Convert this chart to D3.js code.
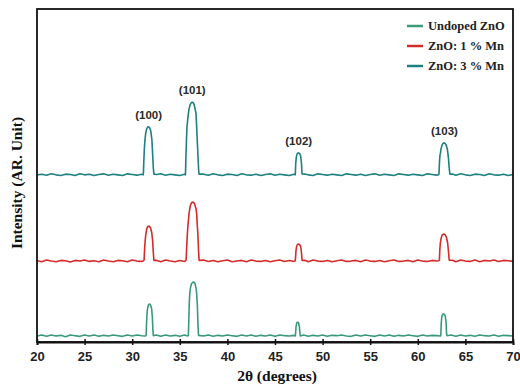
<!DOCTYPE html>
<html>
<head>
<meta charset="utf-8">
<script src="https://cdn.jsdelivr.net/npm/d3@7"></script>
<style>
  body { margin: 0; background: #fff; }
  svg { display: block; }
</style>
</head>
<body>
<svg></svg>
<script>
var WIDTH = 520;
var HEIGHT = 388;

var seriesNames = ['Undoped ZnO', 'ZnO: 1 % Mn', 'ZnO: 3 % Mn'];
var seriesColors = ['#3a9a78', '#d42b2b', '#1e8081'];
// vertical stacking offsets (a.u.)
var offsets = [1.8, 24.3, 50.2];
var xTicks = [20, 25, 30, 35, 40, 45, 50, 55, 60, 65, 70];

// peak labels: [text, 2theta, top of the 3 % Mn peak]
var peakLabels = [['(100)', 31.73, 64.6], ['(101)', 36.31, 72.0], ['(102)', 47.49, 56.8], ['(103)', 62.8, 59.8]];

// [2theta, intensity] relative to each trace's baseline
var undoped = [[20,0],[20.5,0.3],[21,-0.1],[21.5,0.3],[22,0],[22.5,0.2],[23,-0.2],[23.5,0.3],[24,0.1],[24.5,-0.1],[25,0.3],[25.5,0],[26,0.3],[26.5,-0.1],[27,0.2],[27.5,0],[28,0.3],[28.5,0.1],[29,-0.1],[29.5,0.3],[30,0],[30.5,0.3],[31,0.1],[31.42,0],
  [31.47,0.3],[31.5,3.5],[31.55,6.5],[31.62,8.4],[31.72,9.4],[31.84,9.6],[31.95,9.2],[32.05,8.0],[32.12,5.5],[32.18,1.5],[32.22,0.1],
  [32.5,0.3],[33,-0.1],[33.5,0.3],[34,0],[34.5,0.2],[35,-0.1],[35.5,0.3],[35.85,0],
  [35.9,0.3],[35.94,4],[35.99,9.5],[36.04,12.5],[36.12,14.5],[36.22,15.6],[36.35,16.1],[36.48,16.2],[36.62,15.6],[36.74,13.8],[36.84,9.5],[36.91,3.5],[36.97,0.2],
  [37.5,0],[38,0.3],[38.5,-0.1],[39,0.2],[39.5,0],[40,0.3],[40.5,0.1],[41,-0.1],[41.5,0.3],[42,0],[42.5,0.3],[43,-0.1],[43.5,0.2],[44,0],[44.5,0.3],[45,-0.1],[45.5,0.3],[46,0.1],[46.5,0],[47.0,0.2],[47.14,0],
  [47.17,1.0],[47.21,2.8],[47.28,3.9],[47.38,4.2],[47.48,3.9],[47.56,2.8],[47.62,0.8],[47.66,0],
  [48,0.3],[48.5,-0.1],[49,0.2],[49.5,0],[50,0.3],[50.5,-0.1],[51,0.2],[51.5,0.1],[52,0.3],[52.5,0],[53,-0.1],[53.5,0.3],[54,0],[54.5,0.3],[55,0.1],[55.5,-0.1],[56,0.3],[56.5,0],[57,0.3],[57.5,-0.1],[58,0.2],[58.5,0],[59,0.3],[59.5,0.1],[60,-0.1],[60.5,0.3],[61,0],[61.5,0.2],[62,0.1],[62.38,0],
  [62.42,0.4],[62.46,3.7],[62.52,5.8],[62.62,6.6],[62.75,6.6],[62.88,6.1],[62.97,4.2],[63.02,0.7],[63.06,0.1],
  [63.5,0.3],[64,-0.1],[64.5,0.3],[65,0],[65.5,0.2],[66,-0.1],[66.5,0.3],[67,0.1],[67.5,0],[68,0.3],[68.5,-0.1],[69,0.2],[69.5,0.1],[70,0]];

var mn1 = [[20,0.1],[20.5,-0.2],[21,0.3],[21.5,0],[22,-0.2],[22.5,0.2],[23,0.1],[23.5,-0.3],[24,0.2],[24.5,0],[25,0.3],[25.5,-0.1],[26,0.1],[26.5,-0.2],[27,0.3],[27.5,0],[28,-0.2],[28.5,0.2],[29,0.1],[29.5,-0.2],[30,0.3],[30.5,0],[31,-0.1],[31.2,0.1],
  [31.25,0.4],[31.3,3.5],[31.36,6.0],[31.42,7.8],[31.52,9.6],[31.65,10.4],[31.78,10.5],[31.92,10.0],[32.05,8.6],[32.15,6],[32.22,2.5],[32.28,0.2],
  [32.6,0.2],[33,-0.2],[33.5,0.3],[34,0],[34.5,-0.2],[35,0.2],[35.5,-0.1],[35.62,0.1],
  [35.67,0.5],[35.72,4],[35.8,8.5],[35.88,11.5],[35.98,14.5],[36.1,16.6],[36.25,17.6],[36.4,17.7],[36.55,17.2],[36.7,15.8],[36.78,14.0],[36.82,11.5],[36.9,8],[36.97,3],[37.03,0.2],
  [37.5,0.3],[38,-0.1],[38.5,0.2],[39,-0.2],[39.5,0.1],[40,0.3],[40.5,-0.2],[41,0],[41.5,0.2],[42,-0.2],[42.5,0.3],[43,0],[43.5,-0.1],[44,0.2],[44.5,-0.2],[45,0.1],[45.5,0.3],[46,-0.1],[46.5,0.2],[47.0,-0.1],[47.12,0.1],
  [47.15,0.6],[47.2,3.0],[47.26,4.3],[47.36,5.0],[47.5,5.1],[47.63,4.8],[47.72,4.0],[47.79,2.2],[47.85,0.2],
  [48.2,0.2],[48.5,-0.2],[49,0.3],[49.5,0],[50,-0.1],[50.5,0.2],[51,-0.2],[51.5,0.1],[52,0.3],[52.5,-0.1],[53,0],[53.5,0.2],[54,-0.2],[54.5,0.3],[55,0],[55.5,-0.1],[56,0.2],[56.5,-0.2],[57,0.1],[57.5,0.3],[58,-0.1],[58.5,0],[59,0.2],[59.5,-0.2],[60,0.3],[60.5,0],[61,-0.1],[61.5,0.2],[62,0],[62.22,0.1],
  [62.27,0.5],[62.31,3.2],[62.37,5.5],[62.46,7.0],[62.58,7.9],[62.72,8.1],[62.88,7.9],[63.02,7.0],[63.13,5.5],[63.22,3],[63.3,0.3],
  [63.7,0.2],[64,-0.2],[64.5,0.3],[65,0],[65.5,-0.1],[66,0.3],[66.5,-0.2],[67,0.2],[67.5,0],[68,0.3],[68.5,-0.1],[69,0.2],[69.5,0.1],[70,-0.1]];

var mn3 = [[20,0],[20.5,0.2],[21,-0.1],[21.5,0.3],[22,0],[22.5,-0.2],[23,0.2],[23.5,0.1],[24,-0.2],[24.5,0.3],[25,0],[25.5,0.2],[26,-0.2],[26.5,0.1],[27,0.3],[27.5,-0.1],[28,0.2],[28.5,0],[29,-0.2],[29.5,0.3],[30,0.1],[30.5,-0.1],[31,0.2],[31.15,0],
  [31.18,0.5],[31.22,4],[31.28,8],[31.34,10.5],[31.42,12.5],[31.52,13.8],[31.65,14.4],[31.8,14.3],[31.95,13.2],[32.07,10.5],[32.15,6],[32.22,2],[32.28,0.2],
  [32.6,0.1],[33,0.3],[33.5,-0.1],[34,0.2],[34.5,0],[35,-0.2],[35.5,0.2],[35.58,0],
  [35.6,0.5],[35.64,5],[35.7,10.5],[35.76,14.5],[35.85,17.2],[35.95,19.5],[36.08,21.0],[36.22,21.7],[36.36,21.8],[36.5,21.2],[36.62,19.6],[36.7,18.5],[36.76,15],[36.84,10],[36.92,5],[36.98,1.5],[37.02,0.2],
  [37.5,0.2],[38,-0.1],[38.5,0.3],[39,0],[39.5,-0.2],[40,0.2],[40.5,0.1],[41,-0.2],[41.5,0.3],[42,0],[42.5,-0.1],[43,0.2],[43.5,-0.2],[44,0.1],[44.5,0.3],[45,-0.1],[45.5,0.2],[46,0],[46.5,-0.2],[47.0,0.2],[47.12,0],
  [47.14,0.6],[47.18,3.5],[47.24,5.4],[47.34,6.4],[47.48,6.6],[47.62,6.3],[47.72,5.2],[47.79,3],[47.84,0.3],
  [48.2,0.2],[48.5,0],[49,-0.2],[49.5,0.3],[50,0.1],[50.5,-0.1],[51,0.2],[51.5,0],[52,-0.2],[52.5,0.3],[53,0.1],[53.5,-0.1],[54,0.2],[54.5,-0.2],[55,0.1],[55.5,0.3],[56,-0.1],[56.5,0.2],[57,0],[57.5,-0.2],[58,0.3],[58.5,0.1],[59,-0.1],[59.5,0.2],[60,0],[60.5,-0.2],[61,0.3],[61.5,0.1],[62,-0.1],[62.2,0.1],
  [62.23,0.5],[62.27,3.5],[62.33,6.0],[62.38,6.5],[62.44,7.8],[62.55,9.0],[62.7,9.6],[62.85,9.5],[63.0,8.8],[63.12,7.4],[63.22,5],[63.3,2],[63.37,0.2],
  [63.7,0.2],[64,-0.1],[64.5,0.3],[65,0],[65.5,-0.2],[66,0.2],[66.5,0.1],[67,-0.2],[67.5,0.3],[68,0],[68.5,-0.1],[69,0.2],[69.5,-0.2],[70,0.1]];

var traces = [undoped, mn1, mn3];

var margin = {top: 9, right: 7, bottom: 46, left: 37};

var svg = d3.select('svg')
  .attr('width', WIDTH)
  .attr('height', HEIGHT);

var xScale = d3.scaleLinear()
  .domain([20, 70])
  .range([margin.left, WIDTH - margin.right]);

var yScale = d3.scaleLinear()
  .domain([0, 100])
  .range([HEIGHT - margin.bottom, margin.top]);

// traces
traces.forEach(function(trace, i) {
  var line = d3.line()
    .x(function(d) { return xScale(d[0]); })
    .y(function(d) { return yScale(d[1] + offsets[i]); });
  svg.append('path')
    .datum(trace)
    .attr('fill', 'none')
    .attr('stroke', seriesColors[i])
    .attr('stroke-width', 1.6)
    .attr('stroke-linejoin', 'round')
    .attr('d', line);
});

// frame
svg.append('rect')
  .attr('x', margin.left)
  .attr('y', margin.top)
  .attr('width', WIDTH - margin.left - margin.right)
  .attr('height', HEIGHT - margin.top - margin.bottom)
  .attr('fill', 'none')
  .attr('stroke', '#111')
  .attr('stroke-width', 1.8);

// x axis
var xAxis = svg.append('g')
  .attr('transform', 'translate(0,' + (HEIGHT - margin.bottom) + ')')
  .call(d3.axisBottom(xScale).tickValues(xTicks).tickSize(3).tickPadding(7).tickFormat(d3.format('d')));
xAxis.select('.domain').attr('stroke', '#111').attr('stroke-width', 1.8);
xAxis.selectAll('.tick line').attr('y1', -3).attr('y2', 3).attr('stroke', '#111').attr('stroke-width', 1.5);
xAxis.selectAll('.tick text')
  .attr('fill', '#222')
  .style('font-family', '"Liberation Sans", Arial, sans-serif')
  .style('font-weight', 'bold')
  .style('font-size', '13px');

// axis titles
svg.append('text')
  .attr('x', 277)
  .attr('y', 381)
  .attr('text-anchor', 'middle')
  .style('font-family', '"Liberation Serif", "Times New Roman", serif')
  .style('font-weight', 'bold')
  .style('font-size', '15.5px')
  .attr('fill', '#111')
  .text('2\u03b8 (degrees)');

svg.append('text')
  .attr('transform', 'translate(22,183) rotate(-90)')
  .attr('text-anchor', 'middle')
  .style('font-family', '"Liberation Serif", "Times New Roman", serif')
  .style('font-weight', 'bold')
  .style('font-size', '15.5px')
  .attr('fill', '#111')
  .text('Intensity (AR. Unit)');

// peak labels
svg.selectAll('.peak-label')
  .data(peakLabels)
  .enter()
  .append('text')
  .attr('class', 'peak-label')
  .attr('x', function(d) { return xScale(d[1]); })
  .attr('y', function(d) { return yScale(d[2]) - 8; })
  .attr('text-anchor', 'middle')
  .style('font-family', '"Liberation Sans", Arial, sans-serif')
  .style('font-weight', 'bold')
  .style('font-size', '11.5px')
  .attr('fill', '#2a2a2a')
  .text(function(d) { return d[0]; });

// legend
var legend = svg.selectAll('.legend')
  .data(seriesNames)
  .enter()
  .append('g')
  .attr('class', 'legend')
  .attr('transform', function(d, i) { return 'translate(407,' + (26 + i * 20) + ')'; });
legend.append('line')
  .attr('x1', 0).attr('x2', 16)
  .attr('stroke', function(d, i) { return seriesColors[i]; })
  .attr('stroke-width', 2.5);
legend.append('text')
  .attr('x', 21)
  .attr('y', 4)
  .style('font-family', '"Liberation Serif", "Times New Roman", serif')
  .style('font-weight', 'bold')
  .style('font-size', '12.5px')
  .attr('fill', '#222')
  .text(function(d) { return d; });
</script>
</body>
</html>
